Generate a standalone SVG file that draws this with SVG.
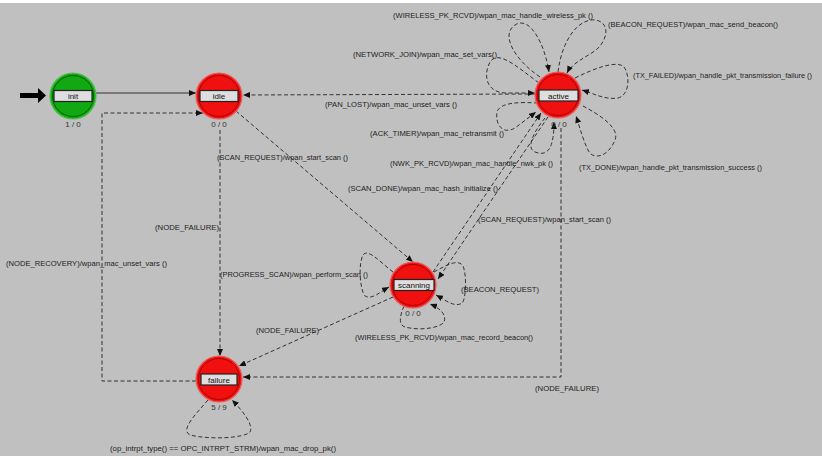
<svg xmlns="http://www.w3.org/2000/svg" width="822" height="456" viewBox="0 0 822 456">
<defs>
<style>
.lbl{font-family:"Liberation Sans",Arial,sans-serif;font-size:8px;fill:#222}
.cnt{font-family:"Liberation Sans",Arial,sans-serif;font-size:8px;fill:#333;text-anchor:middle}
.nm{font-family:"Liberation Sans",Arial,sans-serif;font-size:8px;fill:#111;text-anchor:middle}
.e{fill:none;stroke:#222;stroke-width:0.9;stroke-dasharray:4 2.5;marker-end:url(#ah)}
.s{fill:none;stroke:#333;stroke-width:1;marker-end:url(#ah)}
.red .o{fill:#f01010;stroke:#e86060;stroke-width:1.2}
.red .i{fill:none;stroke:#b00000;stroke-width:1}
.grn .o{fill:#12a812;stroke:#50c050;stroke-width:1.2}
.grn .i{fill:none;stroke:#006000;stroke-width:1}
.box{fill:#dedede;stroke:#222;stroke-width:1.2}
</style>
<marker id="ah" viewBox="0 0 7 6" refX="7" refY="3" markerWidth="7" markerHeight="6" markerUnits="userSpaceOnUse" orient="auto">
<path d="M0,0 L7,3 L0,6 z" fill="#111"/>
</marker>
</defs>
<rect width="822" height="456" fill="#c0c0c0"/>
<rect width="822" height="3" fill="#ffffff"/>

<g id="connectors">
<path id="start" d="M20,93 L38,93 L38,88 L46,95.5 L38,103 L38,98 L20,98 z" fill="#000"/>
<path class="s" d="M96,93 L196,93"/>
<path class="e" d="M535,94 L243,95"/>
<path class="e" d="M196,381 L102,381 L102,113 L203,113"/>
<path class="e" d="M220,130 L220,356"/>
<path class="e" d="M236,111 L413,262"/>
<path class="e" d="M433,272 L541,113"/>
<path class="e" d="M548,117 L438,279"/>
<path class="e" d="M561,128 L561,377 L243,377"/>
<path class="e" d="M393,297 L239,366"/>
<path class="e" d="M540,77 C515,60 500,35 515,25 C530,15 545,45 549,72"/>
<path class="e" d="M558,72 C562,40 578,18 596,20 C612,24 606,42 596,50 C585,58 572,63 567,73"/>
<path class="e" d="M539,83 C515,65 498,50 490,62 C483,75 486,92 505,93 L535,93"/>
<path class="e" d="M575,78 C595,68 617,60 624,67 C630,75 630,95 618,98 C605,100 595,94 582,90"/>
<path class="e" d="M538,103 C520,102 500,102 497,112 C495,125 503,135 515,128 L536,112"/>
<path class="e" d="M545,118 C535,130 525,148 535,152 C548,157 554,148 554,122"/>
<path class="e" d="M583,106 C600,115 620,128 615,140 C608,158 592,160 588,150 C583,140 580,128 576,116"/>
<path class="e" d="M393,272 C380,262 368,248 363,255 C358,265 360,290 365,296 C372,300 380,292 389,287"/>
<path class="e" d="M434,272 C445,266 458,258 463,266 C467,275 466,300 462,303 C455,308 445,300 436,295"/>
<path class="e" d="M404,306 C400,315 398,325 405,327 C420,331 440,328 444,322 C447,315 440,308 430,304"/>
<path class="e" d="M208,400 C195,415 180,430 190,435 C210,440 245,438 250,432 C254,425 242,410 232,400"/>
</g>

<g id="node-init" class="grn">
<circle class="o" cx="73" cy="96" r="23"/>
<circle class="i" cx="73" cy="96" r="20.5"/>
<rect class="box" x="54" y="90.5" width="38" height="11"/>
<text class="nm" x="73" y="99">init</text>
<text class="cnt" x="73" y="127">1 / 0</text>
</g>
<g id="node-idle" class="red">
<circle class="o" cx="219" cy="96" r="23"/>
<circle class="i" cx="219" cy="96" r="20.5"/>
<rect class="box" x="200" y="90.5" width="38" height="11"/>
<text class="nm" x="219" y="99">idle</text>
<text class="cnt" x="219" y="127">0 / 0</text>
</g>
<g id="node-active" class="red">
<circle class="o" cx="558" cy="95" r="23"/>
<circle class="i" cx="558" cy="95" r="20.5"/>
<rect class="box" x="539" y="90" width="39" height="11"/>
<text class="nm" x="558.5" y="98.5">active</text>
<text class="cnt" x="559" y="127">0 / 0</text>
</g>
<g id="node-scanning" class="red">
<circle class="o" cx="413" cy="285" r="23"/>
<circle class="i" cx="413" cy="285" r="20.5"/>
<rect class="box" x="394" y="279.5" width="40" height="11"/>
<text class="nm" x="414" y="288">scanning</text>
<text class="cnt" x="413" y="316">0 / 0</text>
</g>
<g id="node-failure" class="red">
<circle class="o" cx="219" cy="379" r="23"/>
<circle class="i" cx="219" cy="379" r="20.5"/>
<rect class="box" x="201" y="374" width="36" height="11"/>
<text class="nm" x="219" y="382.5">failure</text>
<text class="cnt" x="219" y="410">5 / 9</text>
</g>

<g id="labels">
<text class="lbl" x="325" y="107" textLength="132" lengthAdjust="spacingAndGlyphs">(PAN_LOST)/wpan_mac_unset_vars ()</text>
<text class="lbl" x="6" y="266" textLength="161" lengthAdjust="spacingAndGlyphs">(NODE_RECOVERY)/wpan_mac_unset_vars ()</text>
<text class="lbl" x="155" y="230" textLength="64" lengthAdjust="spacingAndGlyphs">(NODE_FAILURE)</text>
<text class="lbl" x="220" y="277" textLength="148" lengthAdjust="spacingAndGlyphs">(PROGRESS_SCAN)/wpan_perform_scan ()</text>
<text class="lbl" x="217" y="160" textLength="131" lengthAdjust="spacingAndGlyphs">(SCAN_REQUEST)/wpan_start_scan ()</text>
<text class="lbl" x="348" y="191" textLength="150" lengthAdjust="spacingAndGlyphs">(SCAN_DONE)/wpan_mac_hash_initialize ()</text>
<text class="lbl" x="478" y="222" textLength="133" lengthAdjust="spacingAndGlyphs">(SCAN_REQUEST)/wpan_start_scan ()</text>
<text class="lbl" x="256" y="333" textLength="63" lengthAdjust="spacingAndGlyphs">(NODE_FAILURE)</text>
<text class="lbl" x="355" y="340" textLength="178" lengthAdjust="spacingAndGlyphs">(WIRELESS_PK_RCVD)/wpan_mac_record_beacon()</text>
<text class="lbl" x="461" y="292" textLength="78" lengthAdjust="spacingAndGlyphs">(BEACON_REQUEST)</text>
<text class="lbl" x="535" y="391" textLength="64" lengthAdjust="spacingAndGlyphs">(NODE_FAILURE)</text>
<text class="lbl" x="110" y="451" textLength="226" lengthAdjust="spacingAndGlyphs">(op_intrpt_type() == OPC_INTRPT_STRM)/wpan_mac_drop_pk()</text>
<text class="lbl" x="393" y="18" textLength="200" lengthAdjust="spacingAndGlyphs">(WIRELESS_PK_RCVD)/wpan_mac_handle_wireless_pk ()</text>
<text class="lbl" x="608" y="27" textLength="170" lengthAdjust="spacingAndGlyphs">(BEACON_REQUEST)/wpan_mac_send_beacon()</text>
<text class="lbl" x="353" y="57" textLength="144" lengthAdjust="spacingAndGlyphs">(NETWORK_JOIN)/wpan_mac_set_vars()</text>
<text class="lbl" x="633" y="78" style="font-size:7.2px" textLength="179" lengthAdjust="spacingAndGlyphs">(TX_FAILED)/wpan_handle_pkt_transmission_failure ()</text>
<text class="lbl" x="370" y="136" textLength="134" lengthAdjust="spacingAndGlyphs">(ACK_TIMER)/wpan_mac_retransmit ()</text>
<text class="lbl" x="390" y="166" textLength="163" lengthAdjust="spacingAndGlyphs">(NWK_PK_RCVD)/wpan_mac_handle_nwk_pk ()</text>
<text class="lbl" x="579" y="170" textLength="183" lengthAdjust="spacingAndGlyphs">(TX_DONE)/wpan_handle_pkt_transmission_success ()</text>
</g>
</svg>
